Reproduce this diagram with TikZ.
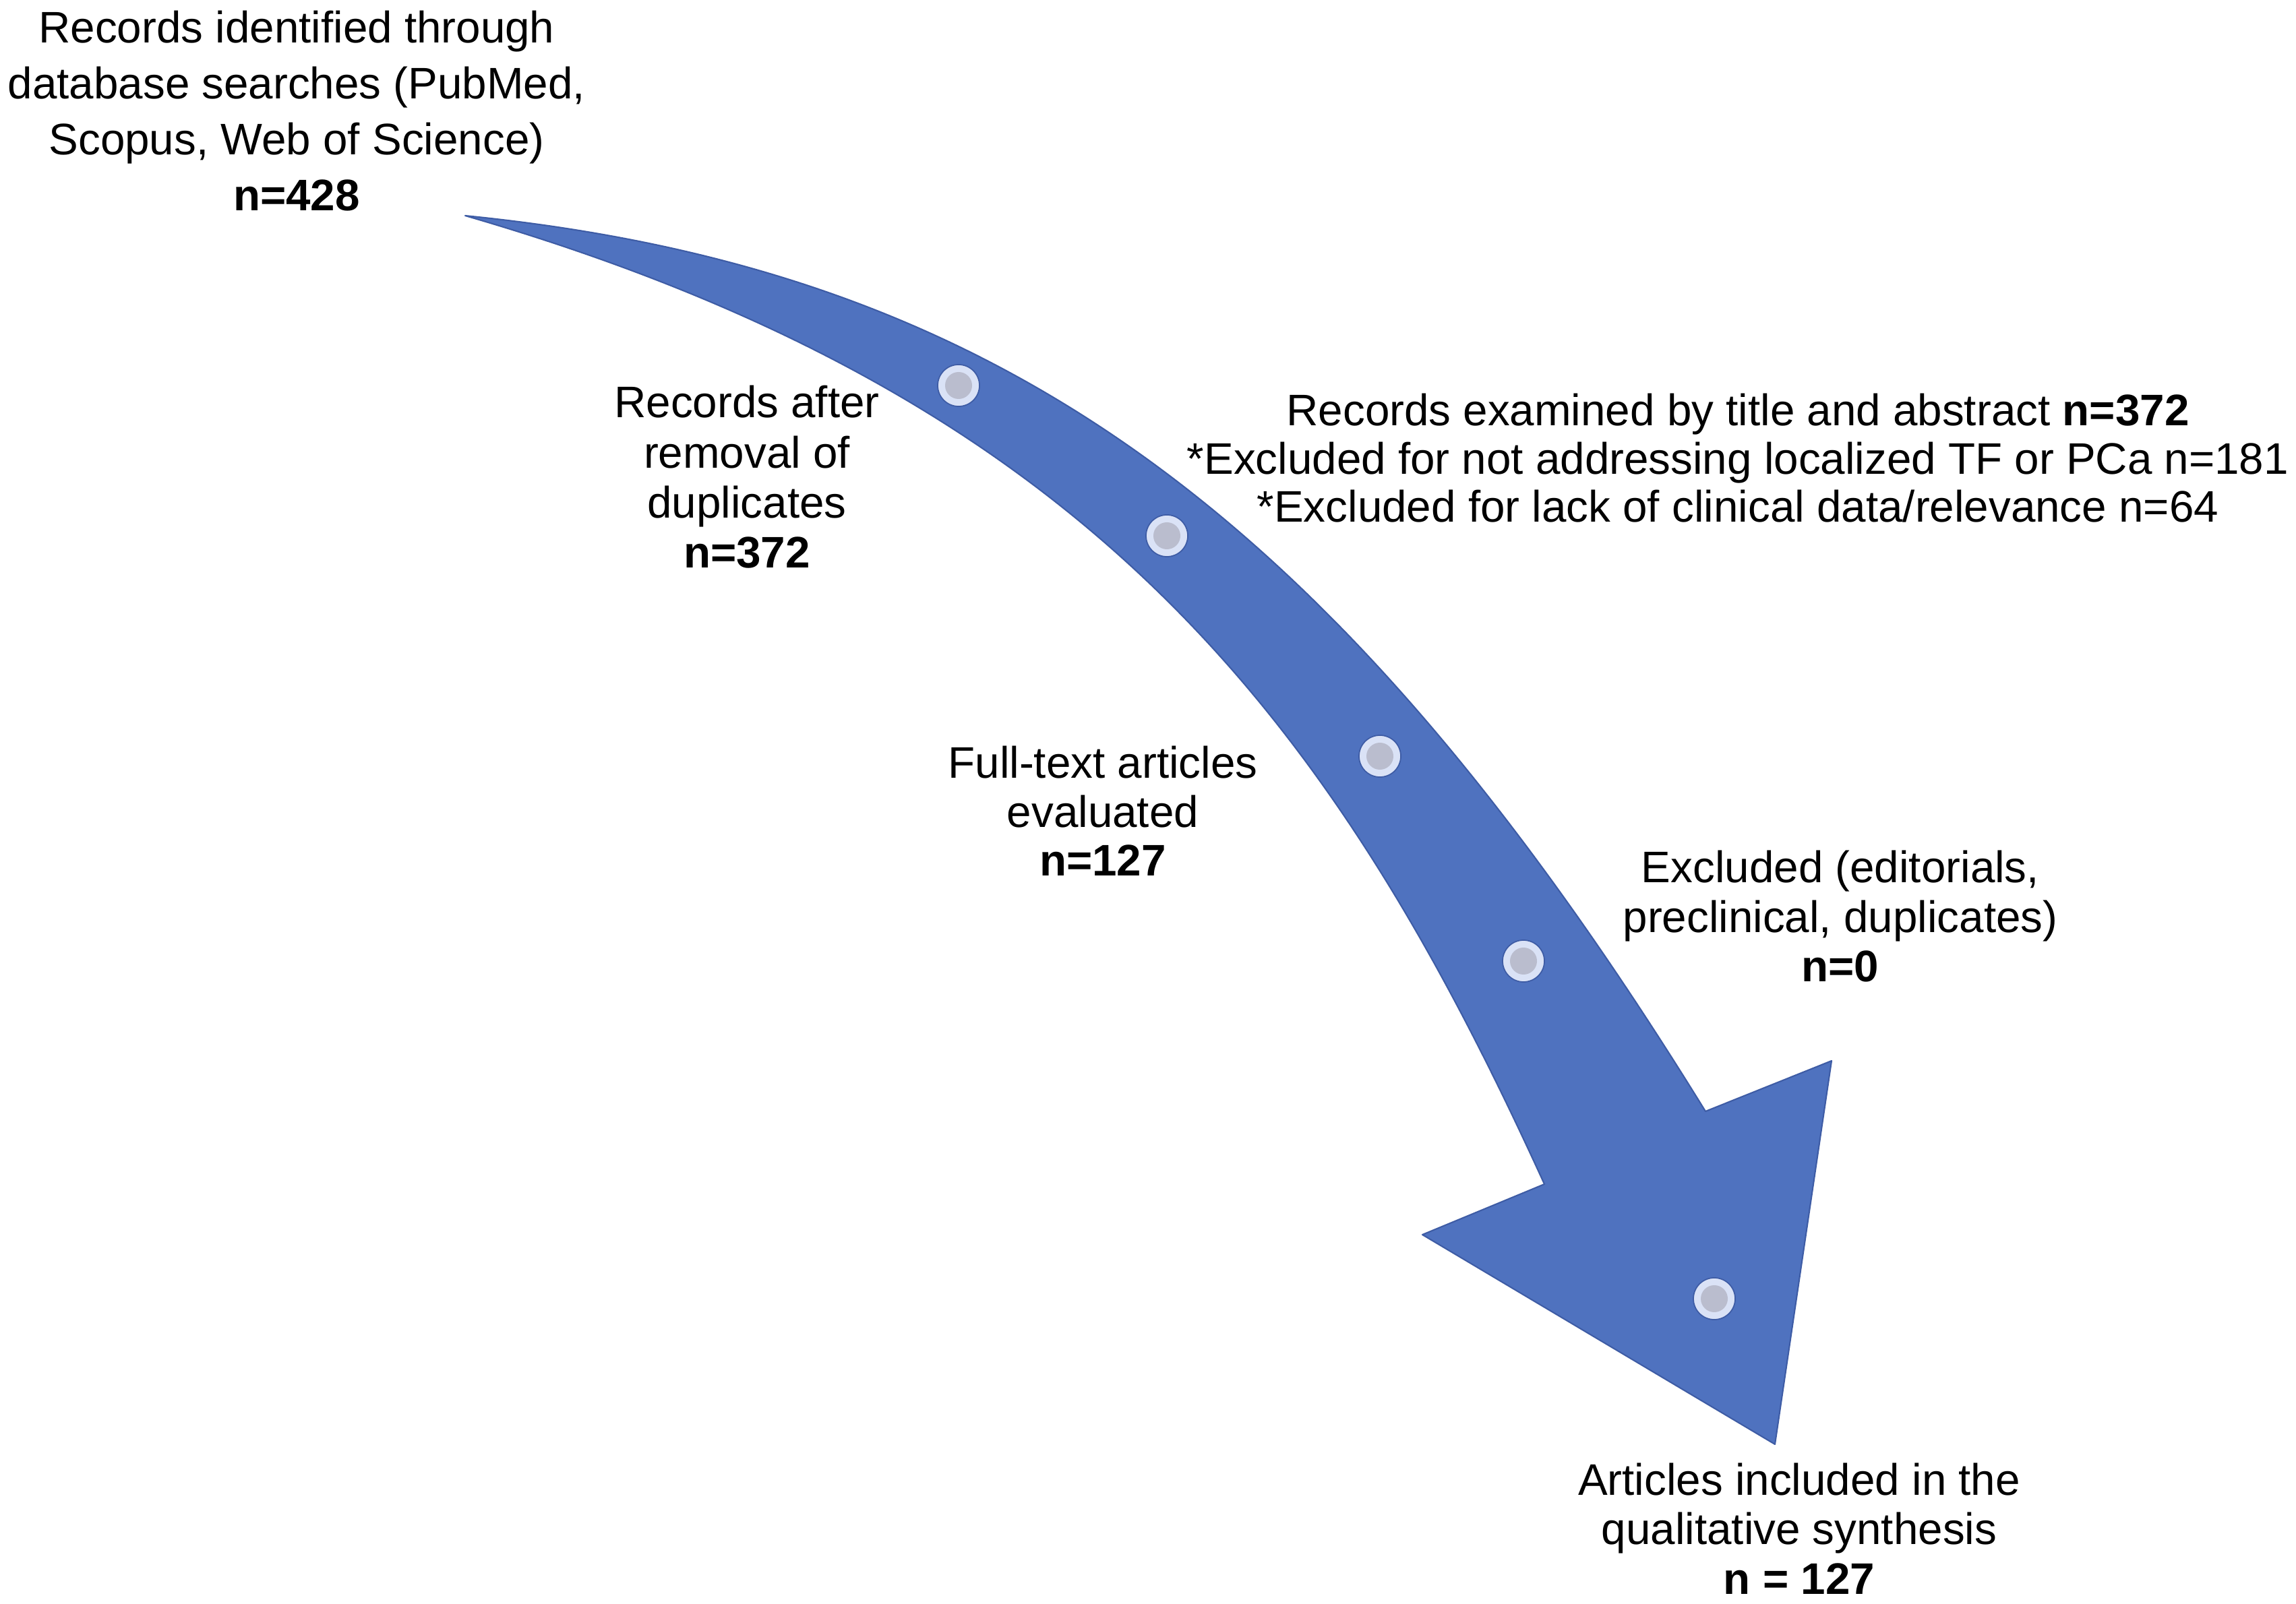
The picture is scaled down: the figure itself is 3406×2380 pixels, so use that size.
\documentclass[tikz,border=0pt]{standalone}
\usepackage{fontspec}
\setmainfont{Liberation Sans}
\definecolor{arrowblue}{RGB}{79,114,191}
\definecolor{arrowedge}{RGB}{62,92,165}
\definecolor{ringcol}{RGB}{218,226,246}
\definecolor{corecol}{RGB}{186,189,206}
\newcommand{\txtblock}[2]{\fontsize{18.64pt}{#1}\selectfont\begin{tabular}[t]{@{}c@{}}#2\end{tabular}}
\begin{document}
\begin{tikzpicture}[x=0.01cm,y=-0.01cm,
  lbl/.style={inner sep=0pt, outer sep=0pt, anchor=base, text=black},
  dot/.style={circle, inner sep=0pt, minimum size=0.62cm, fill=ringcol, draw=arrowedge, line width=0.5pt,
    path picture={\fill[corecol] (path picture bounding box.center) circle[radius=0.2cm];}}]
\path[use as bounding box, fill=white] (0,0) rectangle (3406,2380);

% curved arrow (outer edge, head, inner edge)
\path[fill=arrowblue, draw=arrowedge, line width=0.6pt, line join=round]
  (690,320) .. controls (1480,399) and (1980,758) .. (2530,1649)
  -- (2717,1574) -- (2633,2143) -- (2110,1832) -- (2291,1757)
  .. controls (1976,1065) and (1617,589) .. (690,320)
  -- cycle;

% milestone dots
\node[dot] (c1) at (1422,572) {};
\node[dot] (c2) at (1731,795) {};
\node[dot] (c3) at (2047,1122) {};
\node[dot] (c4) at (2260,1426) {};
\node[dot] (c5) at (2543,1927) {};

% labels
\node[lbl] (t1) at (440,64) {\txtblock{23.6pt}{Records identified through\\database searches (PubMed,\\Scopus, Web of Science)\\\textbf{n=428}}};
\node[lbl] (t2) at (1108,620) {\txtblock{21.06pt}{Records after\\removal of\\duplicates\\\textbf{n=372}}};
\node[lbl] (t3) at (2578,632) {\txtblock{20.2pt}{Records examined by title and abstract \textbf{n=372}\\{*}Excluded for not addressing localized TF or PCa n=181\\{*}Excluded for lack of clinical data/relevance n=64}};
\node[lbl] (t4) at (1636,1155) {\txtblock{20.5pt}{Full-text articles\\evaluated\\\textbf{n=127}}};
\node[lbl] (t5) at (2730,1310) {\txtblock{20.8pt}{Excluded (editorials,\\preclinical, duplicates)\\\textbf{n=0}}};
\node[lbl] (t6) at (2669,2218) {\txtblock{20.9pt}{Articles included in the\\qualitative synthesis\\\textbf{n = 127}}};
\end{tikzpicture}
\end{document}
